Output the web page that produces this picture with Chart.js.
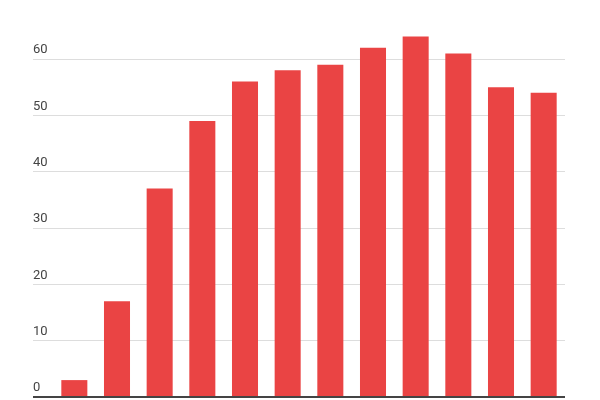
<!DOCTYPE html>
<html>
<head>
<meta charset="utf-8">
<script src="https://cdn.jsdelivr.net/npm/chart.js@4/dist/chart.umd.min.js"></script>
<style>
  html, body { margin: 0; padding: 0; background: #fff; }
  #wrap { width: 600px; height: 400px; }
</style>
</head>
<body>
<div id="wrap"><canvas id="chart"></canvas></div>
<script>
const categories = ['1', '2', '3', '4', '5', '6', '7', '8', '9', '10', '11', '12'];
const values = [3, 17, 37, 49, 56, 58, 59, 62, 64, 61, 55, 54];
const tickValues = [0, 10, 20, 30, 40, 50, 60];

const ctx = document.getElementById('chart');

new Chart(ctx, {
  type: 'bar',
  data: {
    labels: categories,
    datasets: [{
      data: values,
      backgroundColor: '#ea4444',
      borderWidth: 0,
      categoryPercentage: 0.61,
      barPercentage: 1
    }]
  },
  options: {
    responsive: true,
    maintainAspectRatio: false,
    animation: false,
    layout: { padding: { left: 33, right: 35, top: 14, bottom: 3 } },
    plugins: { legend: { display: false }, tooltip: { enabled: false } },
    scales: {
      x: {
        display: false,
        grid: { display: false }
      },
      y: {
        min: 0,
        max: 68,
        border: { display: false },
        afterBuildTicks: (scale) => {
          scale.ticks = tickValues.map(v => ({ value: v }));
        },
        afterFit: (scale) => {
          scale.width = 20;
          scale.paddingTop = 0;
          scale.paddingBottom = 0;
        },
        grid: {
          drawTicks: true,
          tickLength: 20,
          color: (c) => c.tick && c.tick.value === 0 ? '#444' : '#dddddd',
          tickColor: (c) => c.tick && c.tick.value === 0 ? '#444' : '#dddddd',
          lineWidth: (c) => c.tick && c.tick.value === 0 ? 2 : 1
        },
        ticks: {
          crossAlign: 'far',
          labelOffset: -9,
          padding: 0,
          color: '#444',
          font: { family: 'Roboto', size: 13 }
        }
      }
    }
  }
});
</script>
</body>
</html>
